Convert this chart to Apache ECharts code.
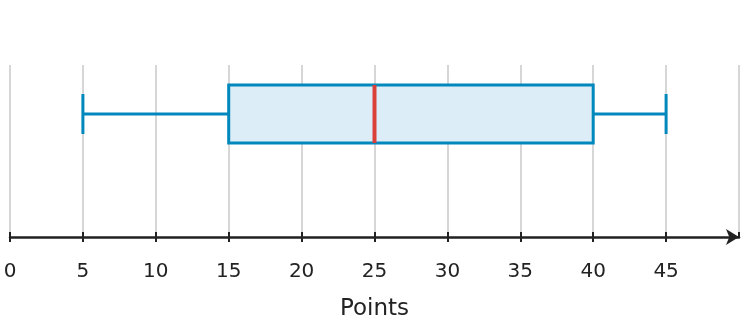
<!DOCTYPE html>
<html>
<head>
<meta charset="utf-8">
<script src="https://cdn.jsdelivr.net/npm/echarts@6/dist/echarts.min.js"></script>
<style>
  html, body { margin: 0; padding: 0; background: #fff; }
  #chart { width: 742px; height: 326px; }
</style>
</head>
<body>
<div id="chart"></div>
<script>
// five-number summary: min, q1, median, q3, max
var stats = [5, 15, 25, 40, 45];
var tickValues = [0, 5, 10, 15, 20, 25, 30, 35, 40, 45];
var axisName = 'Points';

var chart = echarts.init(document.getElementById('chart'));

var BOX_Y = 0.715;   // vertical place of the box inside the plot
var BOX_HALF = 29;   // px
var CAP_HALF = 20;   // px
var STROKE = '#0088bd';

function renderBox(params, api) {
    var lo = api.coord([api.value(0), BOX_Y]);
    var q1 = api.coord([api.value(1), BOX_Y]);
    var med = api.coord([api.value(2), BOX_Y]);
    var q3 = api.coord([api.value(3), BOX_Y]);
    var hi = api.coord([api.value(4), BOX_Y]);
    var y = lo[1];
    var lineStyle = { stroke: STROKE, lineWidth: 3, fill: null };
    return {
        type: 'group',
        children: [
            { type: 'line', shape: { x1: lo[0], y1: y, x2: q1[0], y2: y }, style: lineStyle },
            { type: 'line', shape: { x1: q3[0], y1: y, x2: hi[0], y2: y }, style: lineStyle },
            { type: 'line', shape: { x1: lo[0], y1: y - CAP_HALF, x2: lo[0], y2: y + CAP_HALF }, style: lineStyle },
            { type: 'line', shape: { x1: hi[0], y1: y - CAP_HALF, x2: hi[0], y2: y + CAP_HALF }, style: lineStyle },
            {
                type: 'rect',
                shape: { x: q1[0], y: y - BOX_HALF, width: q3[0] - q1[0], height: BOX_HALF * 2 },
                style: { fill: '#dcedf8', stroke: STROKE, lineWidth: 3 }
            },
            {
                type: 'line',
                shape: { x1: med[0], y1: y - BOX_HALF, x2: med[0], y2: y + BOX_HALF },
                style: { stroke: '#d9403a', lineWidth: 4 }
            }
        ]
    };
}

var option = {
    animation: false,
    grid: { left: 10, right: 3, top: 65, bottom: 89 },
    xAxis: [{
        type: 'value',
        min: 0,
        max: 50,
        interval: 5,
        name: axisName,
        nameLocation: 'middle',
        nameGap: 61,
        nameTextStyle: { fontFamily: 'DejaVu Sans', fontSize: 23, color: '#222' },
        axisLine: {
            show: true,
            symbol: ['none', 'arrow'],
            symbolSize: [12, 13],
            lineStyle: { color: '#222', width: 2.5 }
        },
        axisTick: { show: true, length: 5, lineStyle: { color: '#222', width: 2 } },
        axisLabel: {
            showMaxLabel: false,
            margin: 25,
            fontFamily: 'DejaVu Sans',
            fontSize: 20,
            color: '#222',
            formatter: function (v) { return tickValues.indexOf(v) >= 0 ? String(v) : ''; }
        },
        splitLine: { show: true, lineStyle: { color: '#d6d6d6', width: 2 } }
    }, {
        // upward half of the tick marks
        type: 'value',
        position: 'bottom',
        min: 0,
        max: 50,
        interval: 5,
        axisLine: { show: false },
        axisTick: { show: true, inside: true, length: 5, lineStyle: { color: '#222', width: 2 } },
        axisLabel: { show: false },
        splitLine: { show: false }
    }],
    yAxis: { type: 'value', min: 0, max: 1, show: false },
    series: [{
        type: 'custom',
        renderItem: renderBox,
        data: [stats],
        encode: { x: [0, 1, 2, 3, 4] },
        clip: false
    }]
};

chart.setOption(option);
</script>
</body>
</html>
